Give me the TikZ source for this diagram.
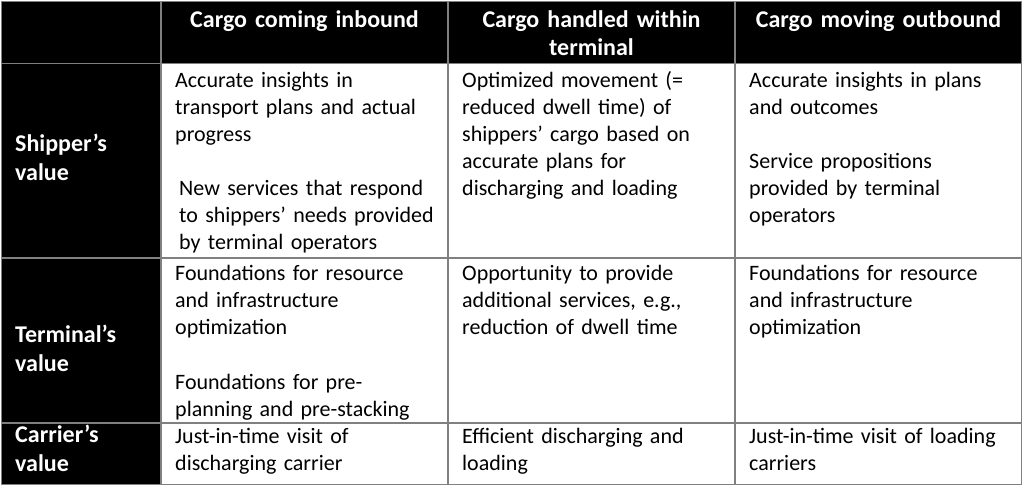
\documentclass[tikz,border=0pt]{standalone}
\usepackage{fontspec}
\setmainfont{Carlito}
\definecolor{gridgray}{RGB}{128,128,128}
\begin{document}
\begin{tikzpicture}[x=1pt,y=-1pt,
  body/.style={anchor=base west, inner sep=0pt, text width=280pt, align=left,
    font=\fontsize{22}{27}\selectfont, text=black},
  head/.style={anchor=base, inner sep=0pt, text width=280pt, align=center,
    font=\fontsize{24}{28}\selectfont\bfseries, text=white},
  lab/.style={anchor=base west, inner sep=0pt, text width=150pt, align=left,
    font=\fontsize{24}{29}\selectfont\bfseries, text=white},
  gridline/.style={draw=gridgray, line width=1.8pt}]
\useasboundingbox (0,0) rectangle (1024,488);
\fill[white] (0,0) rectangle (1024,488);
% black header row and label column
\fill[black] (1.5,1.5) rectangle (1021.5,63.5);
\fill[black] (1.5,1.5) rectangle (161,484.5);
% grid
\draw[gridline] (1.5,1.5) rectangle (1021.5,484.5);
\draw[gridline] (1.5,63.5) -- (1021.5,63.5);
\draw[gridline] (1.5,258) -- (1021.5,258);
\draw[gridline] (1.5,423) -- (1021.5,423);
\draw[gridline] (161,1.5) -- (161,484.5);
\draw[gridline] (448,1.5) -- (448,484.5);
\draw[gridline] (735,1.5) -- (735,484.5);
% headers
\node[head] (h1) at (304.5,27) {Cargo coming inbound};
\node[head] (h2) at (591.5,27) {Cargo handled within\\terminal};
\node[head] (h3) at (878.5,27) {Cargo moving outbound};
% row labels
\node[lab] (l1) at (15,151) {Shipper’s\\value};
\node[lab] (l2) at (15,342) {Terminal’s\\value};
\node[lab] (l3) at (15,442) {Carrier’s\\value};
% row 1
\node[body] (c11) at (175,87) {Accurate insights in\\transport plans and actual\\progress};
\node[body] (c11b) at (179,195) {New services that respond\\to shippers’ needs provided\\by terminal operators};
\node[body] (c12) at (462,87) {Optimized movement (=\\reduced dwell time) of\\shippers’ cargo based on\\accurate plans for\\discharging and loading};
\node[body] (c13) at (749,87) {Accurate insights in plans\\and outcomes};
\node[body] (c13b) at (749,168) {Service propositions\\provided by terminal\\operators};
% row 2
\node[body] (c21) at (175,280) {Foundations for resource\\and infrastructure\\optimization};
\node[body] (c21b) at (175,389) {Foundations for pre-\\planning and pre-stacking};
\node[body] (c22) at (462,280) {Opportunity to provide\\additional services, e.g.,\\reduction of dwell time};
\node[body] (c23) at (749,280) {Foundations for resource\\and infrastructure\\optimization};
% row 3
\node[body] (c31) at (175,443) {Just-in-time visit of\\discharging carrier};
\node[body] (c32) at (462,443) {Efficient discharging and\\loading};
\node[body] (c33) at (749,443) {Just-in-time visit of loading\\carriers};
\end{tikzpicture}
\end{document}
